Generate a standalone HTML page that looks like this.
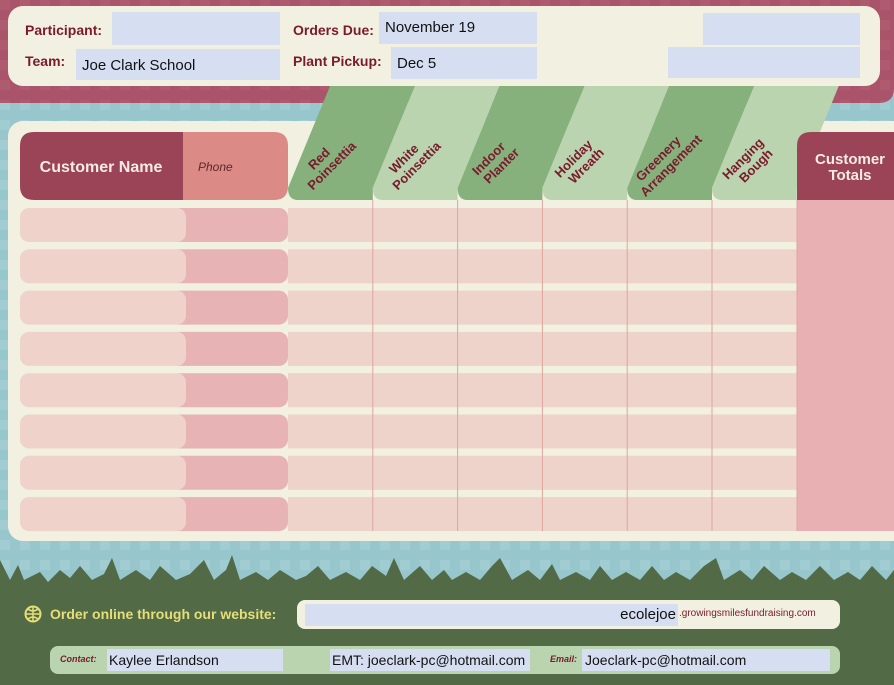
<!DOCTYPE html>
<html><head><meta charset="utf-8"><style>
html,body{margin:0;padding:0;width:894px;height:685px;overflow:hidden;background:#97c6cd;font-family:"Liberation Sans",sans-serif}
.abs{position:absolute}
.lbl{position:absolute;font-weight:bold;color:#7a1a2c;font-size:14px}
.fld{position:absolute;background:#d6dff2;font-size:15px;color:#111;box-sizing:border-box;padding-left:6px}
</style></head><body>
<div style="position:relative;width:894px;height:685px">
<svg class="abs" style="left:0;top:0" width="894" height="685">
<defs>
<pattern id="chk" width="20" height="20" patternUnits="userSpaceOnUse"><rect width="20" height="20" fill="#a9546a"/><rect width="10" height="10" fill="#b36175" opacity=".5"/></pattern>
<pattern id="chkb" width="20" height="20" patternUnits="userSpaceOnUse"><rect width="20" height="20" fill="#97c6cd"/><rect width="10" height="10" fill="#a6d0d5" opacity=".6"/></pattern>
</defs>
<rect x="0" y="0" width="894" height="685" fill="url(#chkb)"/>
<path d="M0 0H894V88Q894 103 879 103H0Z" fill="url(#chk)"/>
<path id="grass" fill="#526a45" d="M0 685V560L10 580L18 565L24 580L40 572L48 582L60 570L70 578L80 566L92 580L104 574L112 558L120 580L136 570L150 580L160 566L176 580L190 574L204 560L214 580L226 570L232 555L240 580L256 572L268 580L280 570L296 580L306 576L318 566L330 580L346 572L360 580L372 566L386 576L394 558L404 580L420 566L432 580L444 570L452 580L466 572L480 580L492 566L500 558L512 580L528 570L540 580L552 564L560 580L576 572L590 580L600 566L612 580L626 572L640 580L652 566L664 580L676 572L690 580L704 566L716 558L724 580L740 570L752 580L764 566L780 580L792 572L806 580L820 566L834 580L848 572L860 580L872 566L886 580L894 570V685Z"/>
<rect x="8" y="121" width="900" height="420" rx="15" fill="#f2f0e0"/>
<rect x="8" y="6" width="872" height="80" rx="15" fill="#f2f0e0"/>
</svg>

<div class="lbl" style="left:25px;top:22px">Participant:</div>
<div class="fld" style="left:112px;top:12px;width:168px;height:33px"></div>
<div class="lbl" style="left:25px;top:53px">Team:</div>
<div class="fld" style="left:76px;top:49px;width:204px;height:31px;line-height:34px">Joe Clark School</div>
<div class="lbl" style="left:293px;top:22px">Orders Due:</div>
<div class="fld" style="left:379px;top:12px;width:158px;height:32px;line-height:32px">November 19</div>
<div class="lbl" style="left:293px;top:53px">Plant Pickup:</div>
<div class="fld" style="left:391px;top:47px;width:146px;height:32px;line-height:34px">Dec 5</div>
<div class="fld" style="left:703px;top:13px;width:157px;height:32px"></div>
<div class="fld" style="left:668px;top:47px;width:192px;height:31px"></div>

<svg class="abs" style="left:0;top:0" width="894" height="685" id="tbl"></svg>

<svg class="abs" style="left:24px;top:605px" width="18" height="18"><circle cx="9" cy="9" r="7.5" fill="none" stroke="#e6de78" stroke-width="2"/><path d="M1.5 9H16.5M9 1.5V16.5M4 4Q9 8 14 4M4 14Q9 10 14 14" stroke="#e6de78" stroke-width="1.5" fill="none"/></svg>
<div class="abs" style="left:50px;top:606px;font-weight:bold;font-size:14px;color:#e6de78">Order online through our website:</div>
<div class="abs" style="left:297px;top:600px;width:543px;height:29px;background:#f2f0e0;border-radius:8px"></div>
<div class="fld" style="left:305px;top:604px;width:373px;height:22px;line-height:22px;text-align:right;padding-right:2px">ecolejoe</div>
<div class="abs" style="left:679px;top:608px;font-size:10px;color:#7a1a2c">.growingsmilesfundraising.com</div>

<div class="abs" style="left:50px;top:646px;width:790px;height:28px;background:#b9d4ae;border-radius:8px"></div>
<div class="abs" style="left:60px;top:654px;font-size:9px;font-style:italic;font-weight:bold;color:#7a1a2c">Contact:</div>
<div class="fld" style="left:107px;top:649px;width:176px;height:22px;line-height:22px;padding-left:2px;font-size:14px">Kaylee Erlandson</div>
<div class="fld" style="left:330px;top:649px;width:200px;height:22px;line-height:22px;padding-left:2px;font-size:14px">EMT: joeclark-pc@hotmail.com</div>
<div class="abs" style="left:550px;top:654px;font-size:9px;font-style:italic;font-weight:bold;color:#7a1a2c">Email:</div>
<div class="fld" style="left:582px;top:649px;width:248px;height:22px;line-height:22px;padding-left:3px;font-size:14px">Joeclark-pc@hotmail.com</div>

<script>
const products = ["Red|Poinsettia","White|Poinsettia","Indoor|Planter","Holiday|Wreath","Greenery|Arrangement","Hanging|Bough"];
const rowCount = 8;
const svg = document.getElementById('tbl');
const NS = 'http://www.w3.org/2000/svg';
function mk(tag, attrs){const e=document.createElementNS(NS,tag);for(const k in attrs)e.setAttribute(k,attrs[k]);svg.appendChild(e);return e;}
const x0=288, colW=84.8, hTop=86, hBot=200, slant=42;
let e;
e=mk('path',{d:'M183 132H274Q288 132 288 146V186Q288 200 274 200H183Z',fill:'#dc8a86'});


e=mk('path',{d:'M34 132H183V200H34Q20 200 20 186V146Q20 132 34 132Z',fill:'#9b4457'});


e=mk('text',{x:101,y:172,'text-anchor':'middle','font-weight':'bold','font-size':16,fill:'#f6ece4'});e.textContent='Customer Name';


e=mk('text',{x:198,y:171,'font-style':'italic','font-size':12,fill:'#5a2a2a'});e.textContent='Phone';


e=mk('rect',{x:797,y:200,width:100,height:331,fill:'#e8b0b3'});


const rowTop=208, rowStep=41.3, rowH=34;
for(let i=0;i<rowCount;i++){
  const y=rowTop+i*rowStep;
  e=mk('rect',{x:288,y:y,width:509,height:rowH,fill:'#edd3ca'});
  
  
  e=mk('rect',{x:170,y:y,width:118,height:rowH,rx:9,fill:'#e8b3b5'});
  
  
  e=mk('rect',{x:20,y:y,width:166,height:rowH,rx:9,fill:'#efd2ca'});
  
  
}
products.forEach((p,i)=>{
  const xl=x0+i*colW, xr=xl+colW;
  const fill=i%2?'#b9d4ae':'#86b07c';
  const d=`M${xl+slant} ${hTop}H${xr+slant}L${xr} ${hBot-12}V${hBot}H${xl+10}Q${xl} ${hBot} ${xl} ${hBot-12}Z`;
  e=mk('path',{d:d,fill:fill});
  
  
  const [a,b]=p.split('|');
  const cx=xl+colW/2-4, cy=hBot-34;
  e=mk('text',{transform:`translate(${cx},${cy}) rotate(-45)`,'text-anchor':'middle','font-weight':'bold','font-size':13,fill:'#7a1a2c'});
  
  
  const t1=document.createElementNS(NS,'tspan');t1.setAttribute('x',0);t1.setAttribute('y',-6);t1.textContent=a;e.appendChild(t1);
  const t2=document.createElementNS(NS,'tspan');t2.setAttribute('x',4);t2.setAttribute('y',8);t2.textContent=b;e.appendChild(t2);
  if(i>0){
    e=mk('line',{x1:xl,x2:xl,y1:hBot,y2:531,stroke:'#dea59f','stroke-width':1});
    
    
  }
});
e=mk('line',{x1:797,x2:797,y1:hBot,y2:531,stroke:'#dea59f','stroke-width':1});


e=mk('path',{d:'M811 132H894V200H797V146Q797 132 811 132Z',fill:'#9b4457'});


e=mk('text',{x:850,y:164,'text-anchor':'middle','font-weight':'bold','font-size':15,fill:'#f6ece4'});


const ta=document.createElementNS(NS,'tspan');ta.setAttribute('x',850);ta.textContent='Customer';e.appendChild(ta);
const tb=document.createElementNS(NS,'tspan');tb.setAttribute('x',850);tb.setAttribute('dy',16);tb.textContent='Totals';e.appendChild(tb);
</script>
</div>
</body></html>
